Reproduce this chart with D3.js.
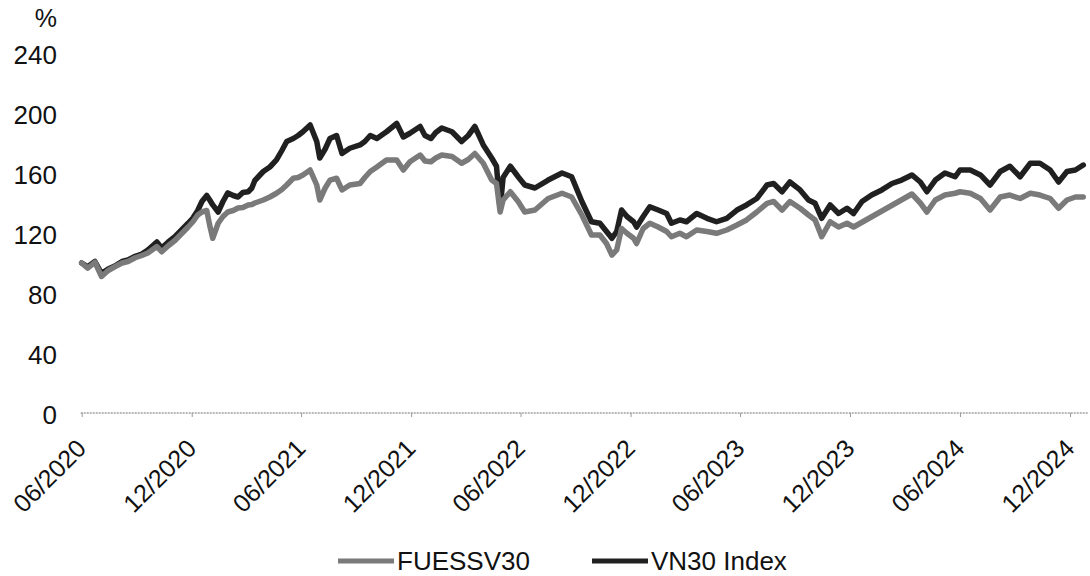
<!DOCTYPE html>
<html>
<head>
<meta charset="utf-8">
<script src="https://cdn.jsdelivr.net/npm/d3@7"></script>
<style>
  body { margin: 0; background: #fff; }
  text { font-family: "Liberation Sans", Arial, sans-serif; fill: #111; }
</style>
</head>
<body>
<div id="chart"></div>
<script>
// ---- data (index, start = 100) ----
const dates = [
  "2020-06-01","2020-06-11","2020-06-23","2020-07-04","2020-07-15","2020-07-26","2020-08-07","2020-08-17",
  "2020-08-29","2020-09-09","2020-09-19","2020-10-04","2020-10-12","2020-10-23","2020-11-03","2020-11-14",
  "2020-11-25","2020-12-03","2020-12-11","2020-12-18","2020-12-26","2020-12-31","2021-01-05","2021-01-14",
  "2021-01-22","2021-01-30","2021-02-08","2021-02-16","2021-02-24","2021-03-05","2021-03-11","2021-03-16",
  "2021-03-30","2021-04-10","2021-04-21","2021-04-30","2021-05-08","2021-05-19","2021-05-27","2021-06-04",
  "2021-06-16","2021-06-27","2021-07-02","2021-07-11","2021-07-19","2021-07-30","2021-08-08","2021-08-21",
  "2021-09-07","2021-09-15","2021-09-24","2021-10-05","2021-10-21","2021-11-07","2021-11-18","2021-11-29",
  "2021-12-16","2021-12-24","2022-01-03","2022-01-11","2022-01-21","2022-02-07","2022-02-23","2022-03-06",
  "2022-03-17","2022-03-31","2022-04-14","2022-04-22","2022-04-28","2022-05-03","2022-05-15","2022-05-28",
  "2022-06-08","2022-06-25","2022-07-17","2022-08-09","2022-08-25","2022-09-11","2022-09-27","2022-10-11",
  "2022-10-22","2022-10-31","2022-11-08","2022-11-16","2022-11-25","2022-12-06","2022-12-11","2022-12-22",
  "2023-01-02","2023-01-16","2023-01-30","2023-02-07","2023-02-21","2023-03-04","2023-03-21","2023-04-07",
  "2023-04-23","2023-05-10","2023-05-27","2023-06-12","2023-06-29","2023-07-16","2023-07-27","2023-08-10",
  "2023-08-23","2023-09-09","2023-09-23","2023-10-04","2023-10-15","2023-10-29","2023-11-12","2023-11-26",
  "2023-12-07","2023-12-21","2024-01-06","2024-01-23","2024-02-09","2024-02-25","2024-03-13","2024-03-27",
  "2024-04-07","2024-04-21","2024-05-07","2024-05-24","2024-06-01","2024-06-18","2024-07-05","2024-07-21",
  "2024-08-07","2024-08-23","2024-09-09","2024-09-26","2024-10-12","2024-10-29","2024-11-12","2024-11-26",
  "2024-12-10","2024-12-23"
];

const vn30 = [
  100, 97.5, 101, 93, 96, 98, 101, 102,
  104.5, 106, 108.7, 114, 110, 114, 117.5, 122,
  126.5, 130, 135, 141, 145, 142, 138.7, 134,
  141, 146.7, 145, 144, 147, 147.5, 150, 155,
  161, 164, 168.7, 175, 181, 183, 185, 187.5,
  192, 181, 170, 176, 183, 185, 173, 176.5,
  178.7, 181, 185, 183, 187.5, 193, 184, 186.5,
  191, 185, 183, 187, 190, 187.5, 181, 185,
  191, 178.7, 170, 164.5, 136, 157, 164.5, 157.5,
  152, 150, 155.3, 160, 157.5, 141, 127.5, 126.5,
  121, 116.5, 121, 135.3, 131, 127.5, 124, 131,
  137.5, 135.3, 133, 126.5, 128.7, 127.5, 133, 129.8,
  127.5, 129.8, 135.3, 138.7, 143, 152, 153, 147.5,
  154, 148.7, 142, 139.8, 129.8, 138.7, 133, 136.5,
  133, 141, 145.3, 148.7, 153, 155.3, 158.7, 154,
  147.5, 155.3, 160, 157.5, 162, 162, 158.7, 152,
  161, 164.5, 157.5, 166.5, 166.5, 162, 154, 161,
  162, 165.3
];

// null = no quote in the source (line bridges the gap)
const fuessv30 = [
  100, 96.5, 100.5, 91, 95, 97.5, 100, 101,
  103.5, 105, 106.7, 111, 107.5, 111.5, 115, 119.5,
  124, 127.5, 132, 134, 135, 125, 116.5, 126.5,
  131, 134, 135, 136.7, 137, 138.7, 139, 140,
  142, 144, 146.5, 149, 152, 156.5, 157, 158.7,
  162, 152, 142, 150, 155.3, 156.5, 148.7, 152,
  153, 157, 161, 164, 168.7, 168.7, 162, 167.5,
  172, 168, 167.5, 170, 172, 171, 166.5, 169,
  173, 166.5, 155.3, 153, 134, 142, 147.5, 141,
  134, 135.3, 143, 146.5, 144, 132, 118.7, 118.7,
  113, 105.3, 108.7, 123, 119.8, 116.5, 113, 123,
  126.5, 124, 121, 117.5, 119.8, 117.5, 122, 121,
  119.8, 122, 125.3, 128.7, 134, 139.8, 141, 135.3,
  141, 136.5, 132, 128.7, 117.5, 127.5, 124, 126.5,
  124, null, null, null, null, null, 146, 140,
  134, 142, 145.3, 146.5, 147.5, 146.5, 143, 135.3,
  144, 145.3, 143, 146.5, 145.3, 143, 136.5, 142,
  144, 144
];

const yTicks = [0, 40, 80, 120, 160, 200, 240];
const xTickLabels = ["06/2020","12/2020","06/2021","12/2021","06/2022","12/2022","06/2023","12/2023","06/2024","12/2024"];
const seriesNames = ["FUESSV30", "VN30 Index"];
const seriesColors = ["#7a7a7a", "#202020"];

// ---- svg ----
const width = 1090, height = 576;
const svg = d3.select("#chart").append("svg")
    .attr("width", width)
    .attr("height", height);

const parseDay = d3.timeParse("%Y-%m-%d");
const parseTick = d3.timeParse("%m/%Y");
const tickDates = xTickLabels.map(parseTick);

// ---- scales ----
const x = d3.scaleTime()
    .domain([tickDates[0], tickDates[tickDates.length - 1]])
    .range([81.7, 1070]);

const y = d3.scaleLinear()
    .domain([0, 240])
    .range([413, 53]);

// ---- y labels (no axis line) ----
svg.append("g")
    .selectAll("text")
    .data(yTicks)
    .join("text")
    .attr("x", 57)
    .attr("y", d => y(d) + 2)
    .attr("dy", "0.35em")
    .attr("text-anchor", "end")
    .attr("font-size", 26)
    .text(d => d);

svg.append("text")
    .attr("x", 57)
    .attr("y", 18)
    .attr("dy", "0.35em")
    .attr("text-anchor", "end")
    .attr("font-size", 25)
    .text("%");

// ---- x axis ----
const xAxis = svg.append("g")
    .attr("transform", `translate(0,${y(0)})`)
    .call(d3.axisBottom(x).tickValues(tickDates).tickSize(4).tickFormat(""));

xAxis.select(".domain")
    .attr("d", `M${x(tickDates[0]) - 1},0H${x(parseDay("2024-12-31"))}`)
    .attr("stroke", "#a0a0a0")
    .attr("stroke-width", 1.5)
    .attr("stroke-dasharray", "2,1");
xAxis.selectAll(".tick line").attr("stroke", "#999");

svg.append("g")
    .selectAll("text")
    .data(tickDates)
    .join("text")
    .attr("transform", d => `translate(${x(d) + 6},450) rotate(-45)`)
    .attr("text-anchor", "end")
    .attr("font-size", 25)
    .text((d, i) => xTickLabels[i]);

// ---- lines ----
const line = d3.line()
    .x(d => x(d.date))
    .y(d => y(d.value));

const toPoints = vals => dates
    .map((s, i) => ({ date: parseDay(s), value: vals[i] }))
    .filter(d => d.value != null);

const series = [
    { name: seriesNames[1], color: seriesColors[1], points: toPoints(vn30) },
    { name: seriesNames[0], color: seriesColors[0], points: toPoints(fuessv30) }
];

svg.append("g")
    .selectAll("path")
    .data(series)
    .join("path")
    .attr("d", d => line(d.points))
    .attr("fill", "none")
    .attr("stroke", d => d.color)
    .attr("stroke-width", 5.5)
    .attr("stroke-linejoin", "round")
    .attr("stroke-linecap", "round");

// ---- legend ----
const legendX = [338, 592];
const legend = svg.append("g").attr("transform", "translate(0,561)");
seriesNames.forEach((name, i) => {
    const row = legend.append("g").attr("transform", `translate(${legendX[i]},0)`);
    row.append("line")
        .attr("x1", 0).attr("x2", 56)
        .attr("stroke", seriesColors[i])
        .attr("stroke-width", 5);
    row.append("text")
        .attr("x", 59)
        .attr("dy", "0.35em")
        .attr("font-size", 26)
        .text(name);
});
</script>
</body>
</html>
